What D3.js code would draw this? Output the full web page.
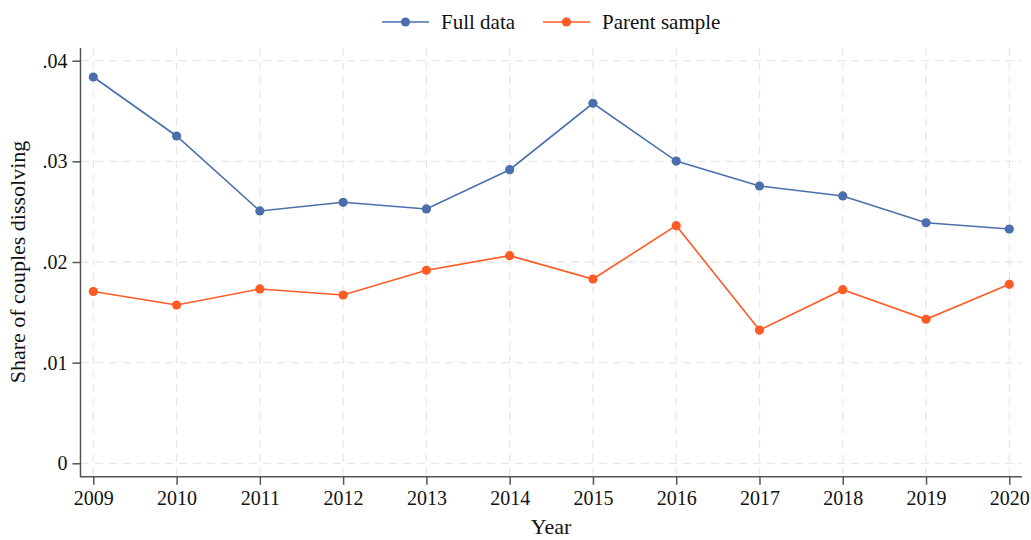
<!DOCTYPE html>
<html>
<head>
<meta charset="utf-8">
<script src="https://cdn.jsdelivr.net/npm/d3@7"></script>
<style>
  html, body { margin: 0; padding: 0; background: #fff; }
  svg { display: block; }
  text { font-family: "Liberation Serif", "Times New Roman", serif; fill: #111; }
</style>
</head>
<body>
<svg id="chart" width="1031" height="540"></svg>
<script>
const years = [2009, 2010, 2011, 2012, 2013, 2014, 2015, 2016, 2017, 2018, 2019, 2020];
const fullData = [0.03838, 0.03252, 0.02507, 0.02593, 0.02527, 0.02917, 0.03577, 0.03003, 0.02755, 0.02656, 0.02390, 0.02328];
const parentSample = [0.01707, 0.01573, 0.01732, 0.01672, 0.01918, 0.02063, 0.01831, 0.02361, 0.01324, 0.01725, 0.01431, 0.01778];
const yTicks = [0, 0.01, 0.02, 0.03, 0.04];
const yTickLabels = ["0", ".01", ".02", ".03", ".04"];
const seriesNames = ["Full data", "Parent sample"];
const seriesColors = ["#4a6fac", "#ff5b24"];

const svg = d3.select("#chart");
const x = d3.scaleLinear().domain([2009, 2020]).range([93.3, 1009.3]);
const y = d3.scaleLinear().domain([0, 0.04]).range([463.3, 60.7]);

// grid
const grid = svg.append("g");
grid.selectAll("line.h").data(yTicks).enter().append("line")
  .attr("x1", 81).attr("x2", 1022)
  .attr("y1", d => y(d)).attr("y2", d => y(d))
  .attr("stroke", "#e8e8e8").attr("stroke-width", 1.3).attr("stroke-dasharray", "8,6");
grid.selectAll("line.v").data(years).enter().append("line")
  .attr("x1", d => x(d)).attr("x2", d => x(d))
  .attr("y1", 48).attr("y2", 476)
  .attr("stroke", "#e8e8e8").attr("stroke-width", 1.3).attr("stroke-dasharray", "8,6");

// axes
const yAxis = d3.axisLeft(y).tickValues(yTicks).tickFormat((d, i) => yTickLabels[i]).tickSize(8).tickPadding(5);
const yg = svg.append("g").attr("transform", "translate(80.5,0)").call(yAxis);
yg.select(".domain").attr("d", "M0,48V477").attr("stroke", "#555").attr("stroke-width", 1.5);
yg.selectAll(".tick line").attr("stroke", "#555").attr("stroke-width", 1.5);
yg.selectAll(".tick text").attr("font-size", 20).attr("fill", "#111")
  .attr("font-family", "Liberation Serif, serif");

const xAxis = d3.axisBottom(x).tickValues(years).tickFormat(d3.format("d")).tickSize(8).tickPadding(6);
const xg = svg.append("g").attr("transform", "translate(0,476.8)").call(xAxis);
xg.select(".domain").attr("d", "M80,0H1022").attr("stroke", "#555").attr("stroke-width", 1.5);
xg.selectAll(".tick line").attr("stroke", "#555").attr("stroke-width", 1.5);
xg.selectAll(".tick text").attr("font-size", 20).attr("fill", "#111")
  .attr("font-family", "Liberation Serif, serif");

// axis titles
svg.append("text").attr("x", 551).attr("y", 534).attr("text-anchor", "middle")
  .attr("font-size", 22).text("Year");
svg.append("text").attr("transform", "translate(25,262) rotate(-90)").attr("text-anchor", "middle")
  .attr("font-size", 22).text("Share of couples dissolving");

// series
const series = [fullData, parentSample];
const line = d3.line().x((d, i) => x(years[i])).y(d => y(d));
series.forEach((vals, s) => {
  svg.append("path").datum(vals).attr("d", line)
    .attr("fill", "none").attr("stroke", seriesColors[s]).attr("stroke-width", 1.6);
  svg.append("g").selectAll("circle").data(vals).enter().append("circle")
    .attr("cx", (d, i) => x(years[i])).attr("cy", d => y(d)).attr("r", 4.6)
    .attr("fill", seriesColors[s]);
});

// legend
const legendX = [382, 543];
seriesNames.forEach((name, s) => {
  const g = svg.append("g").attr("transform", `translate(${legendX[s]},22)`);
  g.append("line").attr("x1", 0).attr("x2", 47).attr("y1", 0).attr("y2", 0)
    .attr("stroke", seriesColors[s]).attr("stroke-width", 1.6);
  g.append("circle").attr("cx", 23.5).attr("cy", 0).attr("r", 4.6).attr("fill", seriesColors[s]);
  g.append("text").attr("x", 59).attr("y", 6.5).attr("font-size", 21).text(name);
});
</script>
</body>
</html>
